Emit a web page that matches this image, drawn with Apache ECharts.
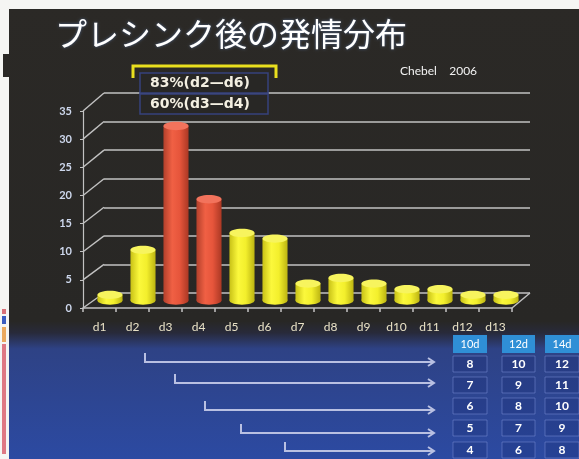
<!DOCTYPE html>
<html>
<head>
<meta charset="utf-8">
<script src="https://cdn.jsdelivr.net/npm/echarts@6/dist/echarts.min.js"></script>
<style>
  html, body { margin: 0; padding: 0; background: #f5f5f3; }
  #chart { width: 579px; height: 459px; }
</style>
</head>
<body>
<div id="chart"></div>
<script>
// ---- data ----
const titleText = 'プレシンク後の発情分布';
const sourceText = 'Chebel    2006';
const days = ['d1', 'd2', 'd3', 'd4', 'd5', 'd6', 'd7', 'd8', 'd9', 'd10', 'd11', 'd12', 'd13'];
const heatShare = [1, 9, 31, 18, 12, 11, 3, 4, 3, 2, 2, 1, 1];
const peakDays = ['d3', 'd4'];
const yTicks = [0, 5, 10, 15, 20, 25, 30, 35];
const windowNotes = ['83%(d2—d6)', '60%(d3—d4)'];
const tableHeads = ['10d', '12d', '14d'];
const days10 = [8, 7, 6, 5, 4];
const days12 = [10, 9, 8, 7, 6];
const days14 = [12, 11, 10, 9, 8];

// ---- layout ----
const FRONT = { left: 83, top: 111, width: 429, height: 197 };
const BACK = { left: 104, top: 93, width: 426, height: 200 };
const DEPTH = { x: 21, y: -15 };
const GRID_COLOR = '#c2c2c2';
const SLIDE_DARK = '#282725';

const YELLOW = { stops: ['#c8c116', '#fbf83c', '#f3ef2c', '#bcb412'], top: '#f7f45e' };
const RED = { stops: ['#b3402b', '#f06044', '#e6553b', '#ab3824'], top: '#f2735c' };

function bodyFill(p) {
  return {
    type: 'linear', x: 0, y: 0, x2: 1, y2: 0,
    colorStops: [
      { offset: 0, color: p.stops[0] },
      { offset: 0.35, color: p.stops[1] },
      { offset: 0.65, color: p.stops[2] },
      { offset: 1, color: p.stops[3] }
    ]
  };
}

// cylinder standing halfway into the box depth
function renderCylinder(params, api) {
  const i = api.value(0);
  const v = api.value(1);
  const top = api.coord([i, v]);
  const base = api.coord([i, 0]);
  const w = api.size([1, 0])[0] * 0.76;
  const rx = w / 2, ry = 4.2;
  const cx = top[0] + DEPTH.x / 2;
  const yT = top[1] + DEPTH.y / 2;
  const yB = base[1] + DEPTH.y / 2;
  const pal = peakDays.indexOf(days[i]) >= 0 ? RED : YELLOW;
  return {
    type: 'group',
    children: [
      { type: 'ellipse', shape: { cx: cx, cy: yB, rx: rx, ry: ry }, style: { fill: bodyFill(pal) } },
      { type: 'rect', shape: { x: cx - rx, y: yT, width: w, height: Math.max(0, yB - yT) }, style: { fill: bodyFill(pal) } },
      { type: 'ellipse', shape: { cx: cx, cy: yT, rx: rx, ry: ry }, style: { fill: pal.top } }
    ]
  };
}

const chart = echarts.init(document.getElementById('chart'), null, { renderer: 'canvas' });

chart.setOption({
  animation: false,
  backgroundColor: {
    type: 'linear', x: 0, y: 0, x2: 0, y2: 1,
    colorStops: [
      { offset: 0, color: '#2b2926' },
      { offset: 0.70, color: SLIDE_DARK },
      { offset: 0.725, color: '#282a3a' },
      { offset: 0.76, color: '#2e4285' },
      { offset: 1, color: '#2c4aa2' }
    ]
  },
  grid: [
    { left: FRONT.left, top: FRONT.top, width: FRONT.width, height: FRONT.height },
    { left: BACK.left, top: BACK.top, width: BACK.width, height: BACK.height }
  ],
  xAxis: [
    {
      gridIndex: 0, type: 'category', data: days, boundaryGap: true,
      axisLine: { show: true, lineStyle: { color: GRID_COLOR, width: 1.5 } },
      axisTick: { show: true, length: 4, lineStyle: { color: GRID_COLOR, width: 1.5 } },
      axisLabel: { color: '#e9e2c6', fontSize: 12, fontFamily: 'Lato', margin: 13 }
    },
    { gridIndex: 1, type: 'category', data: days, show: false }
  ],
  yAxis: [
    {
      gridIndex: 0, type: 'value', min: 0, max: 35, interval: 5,
      axisLine: { show: true, lineStyle: { color: GRID_COLOR, width: 1.2 } },
      axisTick: { show: true, length: 3, lineStyle: { color: GRID_COLOR } },
      axisLabel: { color: '#cdd7ec', fontSize: 11, fontWeight: 'bold', fontFamily: 'Lato', margin: 11 },
      splitLine: { show: false }
    },
    {
      gridIndex: 1, type: 'value', min: 0, max: 35, interval: 5,
      axisLine: { show: false }, axisTick: { show: false }, axisLabel: { show: false },
      splitLine: { show: true, lineStyle: { color: GRID_COLOR, width: 1.6 } }
    }
  ],
  series: [
    {
      type: 'custom', xAxisIndex: 0, yAxisIndex: 0, z: 5,
      renderItem: renderCylinder,
      data: heatShare.map((v, i) => [i, v])
    }
  ]
});

// ---- frame, notes and the table drawn on top of the laid-out axes ----
const fy = v => chart.convertToPixel({ yAxisIndex: 0 }, v);
const by = v => chart.convertToPixel({ yAxisIndex: 1 }, v);
const gfx = [];
const lineStyle = { stroke: GRID_COLOR, lineWidth: 1.4 };

// page edges
gfx.push({ type: 'rect', shape: { x: 0, y: 0, width: 579, height: 9 }, style: { fill: '#f5f5f3' }, z: 1 });
gfx.push({ type: 'rect', shape: { x: 0, y: 0, width: 9, height: 459 }, style: { fill: '#f5f5f3' }, z: 1 });
gfx.push({ type: 'rect', shape: { x: 3, y: 54, width: 7, height: 23 }, style: { fill: '#2b2926' }, z: 2 });
gfx.push({ type: 'rect', shape: { x: 2, y: 309, width: 4, height: 5 }, style: { fill: '#d87078' }, z: 2 });
gfx.push({ type: 'rect', shape: { x: 2, y: 316, width: 4, height: 8 }, style: { fill: '#3a5cc0' }, z: 2 });
gfx.push({ type: 'rect', shape: { x: 2, y: 327, width: 4, height: 15 }, style: { fill: '#eaa85e' }, z: 2 });
gfx.push({ type: 'rect', shape: { x: 2, y: 344, width: 4, height: 110 }, style: { fill: '#de7884' }, z: 2 });

// depth connectors from the front axis to the back wall
yTicks.forEach(v => {
  gfx.push({ type: 'line', shape: { x1: FRONT.left, y1: fy(v), x2: BACK.left, y2: by(v) }, style: lineStyle, z: 1 });
});
gfx.push({
  type: 'line',
  shape: { x1: FRONT.left + FRONT.width, y1: fy(0), x2: BACK.left + BACK.width, y2: by(0) },
  style: lineStyle, z: 1
});

// title and source
gfx.push({
  type: 'text', x: 55, y: 34, z: 20,
  style: {
    text: titleText, fill: '#ffffff', fontSize: 32, fontFamily: 'Noto Sans CJK JP',
    verticalAlign: 'middle', textShadowColor: 'rgba(120,170,255,0.45)', textShadowBlur: 3
  }
});
gfx.push({
  type: 'text', x: 400, y: 71, z: 20,
  style: { text: sourceText, fill: '#f2f2f2', fontSize: 12, fontFamily: 'Lato', verticalAlign: 'middle' }
});

// bracket and notes on the breeding window
gfx.push({
  type: 'polyline', z: 20,
  shape: { points: [[133, 78], [133, 66], [276, 66], [276, 78]] },
  style: { stroke: '#e9df1e', lineWidth: 3, fill: null }
});
windowNotes.forEach((t, k) => {
  const y0 = 73 + k * 21;
  gfx.push({
    type: 'rect', z: 21, shape: { x: 140, y: y0, width: 128, height: 20 },
    style: { fill: SLIDE_DARK, stroke: '#36427c', lineWidth: 1.5 }
  });
  gfx.push({
    type: 'text', x: 150, y: y0 + 10, z: 22,
    style: { text: t, fill: '#f4f0e2', fontSize: 14, fontWeight: 'bold', fontFamily: 'DejaVu Sans', verticalAlign: 'middle' }
  });
});

// arrows from the start day to the table
const ARROWS = [
  { x: 145, top: 353, y: 362 },
  { x: 175, top: 374, y: 383 },
  { x: 205, top: 401, y: 410 },
  { x: 241, top: 424, y: 433 },
  { x: 285, top: 442, y: 451 }
];
const ARROW_END = 434;
const arrowStyle = { stroke: '#b9c0e2', lineWidth: 2, fill: null };
ARROWS.forEach(a => {
  gfx.push({ type: 'polyline', z: 10, shape: { points: [[a.x, a.top], [a.x, a.y], [ARROW_END, a.y]] }, style: arrowStyle });
  gfx.push({ type: 'polyline', z: 10, shape: { points: [[ARROW_END - 6, a.y - 4], [ARROW_END, a.y], [ARROW_END - 6, a.y + 4]] }, style: arrowStyle });
});

// return-day table
const COLS = [{ x: 453, w: 34 }, { x: 502, w: 33 }, { x: 545, w: 34 }];
const ROWS = [364, 385, 406, 428, 450];
const columns = [days10, days12, days14];
COLS.forEach((c, ci) => {
  gfx.push({ type: 'rect', z: 10, shape: { x: c.x, y: 335, width: c.w, height: 18 }, style: { fill: '#2f8fd6' } });
  gfx.push({
    type: 'text', x: c.x + c.w / 2, y: 344, z: 11,
    style: { text: tableHeads[ci], fill: '#ffffff', fontSize: 11, fontFamily: 'Lato', align: 'center', verticalAlign: 'middle' }
  });
  columns[ci].forEach((n, ri) => {
    gfx.push({
      type: 'rect', z: 10, shape: { x: c.x, y: ROWS[ri] - 8, width: c.w, height: 16 },
      style: { fill: 'rgba(28,46,118,0.3)', stroke: 'rgba(125,145,215,0.5)', lineWidth: 1 }
    });
    gfx.push({
      type: 'text', x: c.x + c.w / 2, y: ROWS[ri], z: 11,
      style: { text: String(n), fill: '#ffffff', fontSize: 12, fontWeight: 'bold', fontFamily: 'Lato', align: 'center', verticalAlign: 'middle' }
    });
  });
});

chart.setOption({ graphic: gfx });
</script>
</body>
</html>
